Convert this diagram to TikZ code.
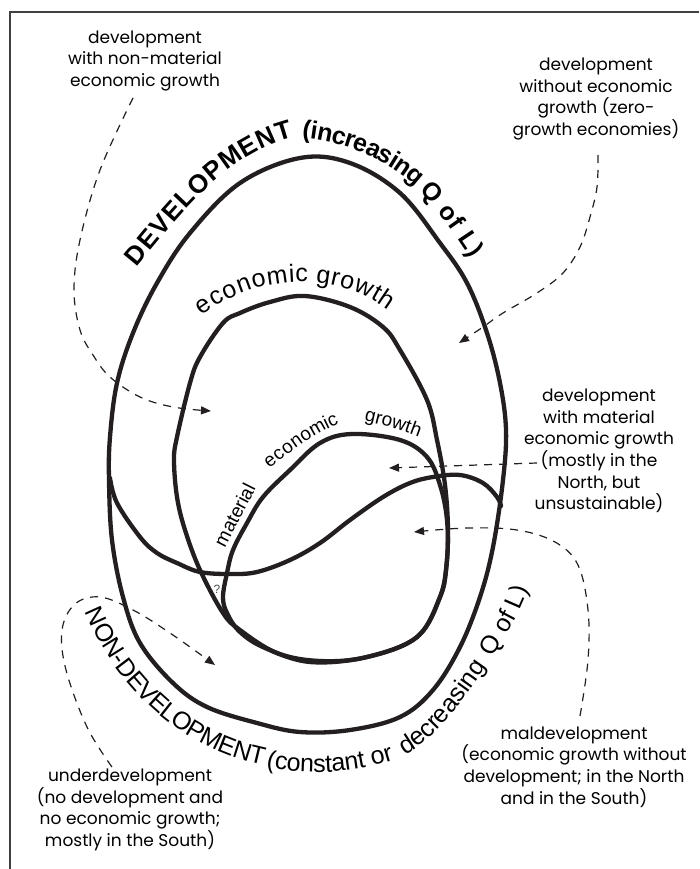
\documentclass[tikz,border=0pt]{standalone}
\usepackage{fontspec}
\usetikzlibrary{arrows.meta}
\newfontfamily\arial{Liberation Sans}
\newfontfamily\callfont{Poppins}
\definecolor{ink}{HTML}{231F20}
\newcommand\devlabelfont{\arial\bfseries\fontsize{26pt}{26pt}\selectfont}
\newcommand\qollabelfont{\arial\bfseries\fontsize{25pt}{25pt}\selectfont}
\newcommand\nondevlabelfont{\arial\fontsize{25pt}{25pt}\selectfont}
\newcommand\growthlabelfont{\arial\fontsize{25pt}{25pt}\selectfont}
\newcommand\matlabelfont{\arial\fontsize{19pt}{19pt}\selectfont}
% set characters (char/advance pairs, advances in 1/1000 em) along one cubic curve,
% spread so that they fill it
\newcount\ctsum
\newcount\ctacc
\newcommand\curvetext[3]{%
  \global\ctsum=0
  \foreach \ch/\w in {#3}{\global\advance\ctsum by \w\relax}%
  \global\ctacc=0
  \foreach \ch/\w in {#3}{%
    \pgfmathsetmacro\ctpos{(\the\ctacc+0.5*\w)/\the\ctsum}%
    \path #2 node[pos=\ctpos,sloped,anchor=base,inner sep=0pt,outer sep=0pt,font=#1]{\ch};%
    \global\advance\ctacc by \w\relax}%
}
\begin{document}
\begin{tikzpicture}[x=1pt,y=-1pt,
  region/.style={draw=ink,line width=4.3pt,line join=round,line cap=round},
  frameline/.style={draw=black!75,line width=1.1pt},
  callout/.style={font=\callfont\fontsize{17pt}{21.7pt}\selectfont,align=center,inner sep=0pt},
  pointer/.style={draw=ink,line width=1.2pt,dash pattern=on 8pt off 7pt,
    -{Triangle[length=10pt,width=8pt]}}]
\useasboundingbox (0,0) rectangle (699,869);
\fill[white] (0,0) rectangle (699,869);

% frame
\coordinate (fTL) at (10,12);
\coordinate (fTR) at (699,12);
\coordinate (fBL) at (10,869);
\draw[frameline] (fTR) -- (fTL) -- (fBL);

% whole quality-of-life egg
\draw[region] plot[smooth cycle,tension=0.6] coordinates {
  (300,158) (350,163) (400,193) (440,243) (467,283) (487,333) (500,383)
  (506,430) (503,480) (493,547) (480,597) (460,647) (433,690) (400,717)
  (350,730) (300,732) (257,723) (207,707) (173,683) (140,643) (123,597)
  (112,540) (109,480) (110,437) (117,383) (133,333) (157,283) (190,233)
  (240,183)};

% boundary between development and non-development
\draw[region] plot[smooth,tension=0.6] coordinates {
  (110,478) (117,503) (140,537) (157,553) (177,563) (200,572) (230,574)
  (257,572) (290,560) (320,543) (350,520) (383,497) (410,483) (433,477)
  (460,475) (483,483) (497,497) (501,506)};

% economic growth
\draw[region] plot[smooth cycle,tension=0.6] coordinates {
  (305,296) (350,307) (383,327) (400,350) (427,400) (437,440) (445,485)
  (448,530) (446,570) (440,597) (417,637) (367,657) (320,661) (277,653)
  (240,630) (223,613) (200,570) (185,530) (177,497) (174,460) (177,437)
  (190,383) (200,357) (223,323) (240,313) (270,302)};

% material economic growth
\draw[region] plot[smooth cycle,tension=0.6] coordinates {
  (352,434) (400,440) (427,457) (440,485) (447,520) (447,560) (440,597)
  (417,637) (367,657) (310,662) (265,648) (240,632) (227,613) (223,597)
  (227,573) (233,550) (247,523) (263,497) (290,470) (320,443)};

% curved region labels
\curvetext{\devlabelfont}{(136,268) .. controls (181,214) and (226,154) .. (294,137)}
  {D/722,E/667,V/667,E/667,L/611,O/778,P/667,M/833,E/667,N/722,T/611}
\curvetext{\qollabelfont}{(302,138) .. controls (344,142) and (385,158) .. (416,186)}
  {{(}/333,i/278,n/611,c/556,r/389,e/556,a/556,s/556,i/278,n/611,g/611}
\curvetext{\qollabelfont}{(419,190) .. controls (439,210) and (455,235) .. (471,259)}
  {Q/778,~/278,o/611,f/333,~/278,L/611,{)}/333}
\curvetext{\growthlabelfont}{(201,316) .. controls (257,274) and (333,269) .. (389,311)}
  {e/556,c/500,o/556,n/556,o/556,m/833,i/222,c/500,~/278,g/556,r/333,o/556,w/722,t/278,h/556}
\curvetext{\matlabelfont}{(225,548) .. controls (235,528) and (246,508) .. (256,488)}
  {m/833,a/556,t/278,e/556,r/333,i/222,a/556,l/222}
\curvetext{\matlabelfont}{(269,469) .. controls (292,451) and (315,433) .. (339,424)}
  {e/556,c/500,o/556,n/556,o/556,m/833,i/222,c/500}
\curvetext{\matlabelfont}{(364,421) .. controls (383,425) and (401,430) .. (419,437)}
  {g/556,r/333,o/556,w/722,t/278,h/556}
\curvetext{\nondevlabelfont}{(85,612) .. controls (117,689) and (181,748) .. (263,765)}
  {N/722,O/778,N/722,-/333,D/722,E/667,V/667,E/667,L/556,O/778,P/667,M/833,E/667,N/722,T/611}
\curvetext{\nondevlabelfont}{(266,767) .. controls (309,776) and (352,773) .. (394,760)}
  {{(}/333,c/500,o/556,n/556,s/500,t/278,a/556,n/556,t/278,~/278,o/556,r/333}
\curvetext{\nondevlabelfont}{(405,755) .. controls (440,735) and (463,700) .. (487,666)}
  {d/556,e/556,c/500,r/333,e/556,a/556,s/500,i/222,n/556,g/556}
\curvetext{\nondevlabelfont}{(493,657) .. controls (505,636) and (520,614) .. (528,589)}
  {Q/778,~/278,o/556,f/278,~/278,L/556,{)}/333}

\node[font=\arial\fontsize{12pt}{12pt}\selectfont,text=black!70,inner sep=0pt]
  (qmark) at (217,589) {?};

% callouts
\node[callout] (nonmat) at (145,61) {development\\with non-material\\economic growth};
\node[callout] (zero) at (596,99) {development\\without economic\\growth (zero-\\growth economies)};
\node[callout] (matgr) at (599,451) {development\\with material\\economic growth\\(mostly in the\\North, but\\unsustainable)};
\node[callout] (mal) at (574,767) {maldevelopment\\(economic growth without\\development; in the North\\and in the South)};
\node[callout] (under) at (130,810) {underdevelopment\\(no development and\\no economic growth;\\mostly in the South)};

% pointer ends
\coordinate (nonmatS) at (133,98);
\coordinate (nonmatE) at (211,411);
\coordinate (zeroS) at (598,155);
\coordinate (zeroE) at (459,343);
\coordinate (matgrS) at (537,463);
\coordinate (matgrE) at (389,468);
\coordinate (malS) at (580,716);
\coordinate (malE) at (414,532);
\coordinate (underS) at (112,767);
\coordinate (underE) at (215,665);

\draw[pointer] plot[smooth,tension=0.6] coordinates {(nonmatS) (100,170) (80,240)
  (74,290) (80,330) (93,355) (110,377) (140,397) (173,407) (nonmatE)};
\draw[pointer] plot[smooth,tension=0.6] coordinates {(zeroS) (597,187) (590,217)
  (580,247) (563,273) (537,293) (503,313) (483,327) (zeroE)};
\draw[pointer] (matgrS) -- (matgrE);
\draw[pointer] plot[smooth,tension=0.6] coordinates {(malS) (588,660) (588,610)
  (578,565) (555,542) (517,530) (467,528) (malE)};
\draw[pointer] plot[smooth,tension=0.6] coordinates {(underS) (87,727) (66,670)
  (62,630) (75,604) (100,597) (133,610) (170,633) (underE)};
\end{tikzpicture}
\end{document}
